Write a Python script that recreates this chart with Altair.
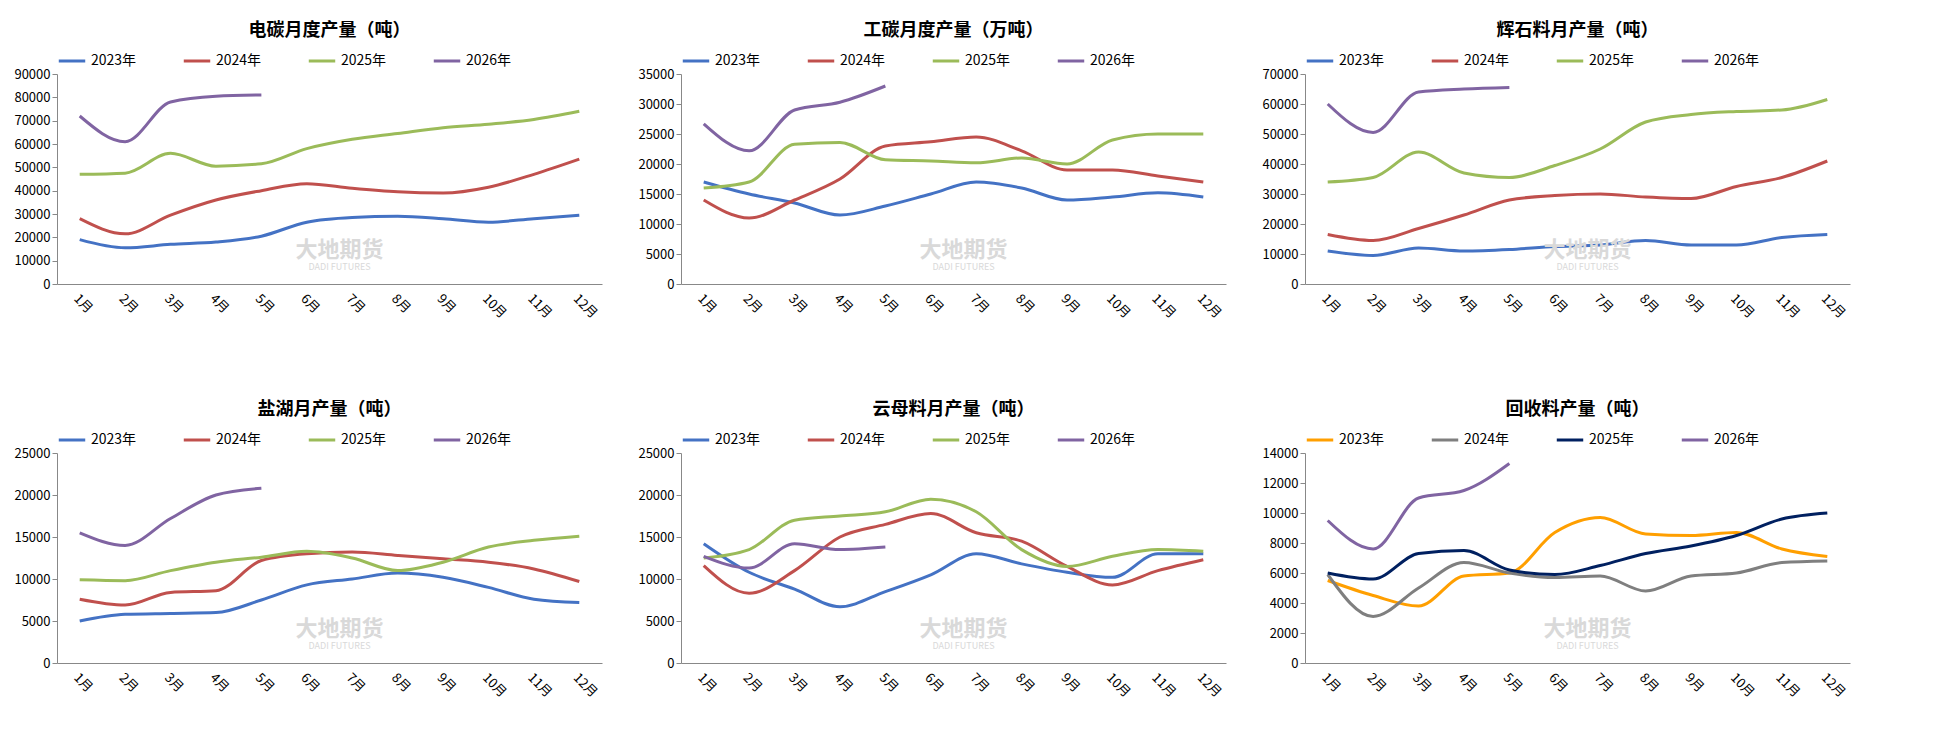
import altair as alt
import pandas as pd

months = [f"{i}月" for i in range(1, 13)]
years = ["2023年", "2024年", "2025年", "2026年"]
colors_main = ["#4472C4", "#C0504D", "#9BBB59", "#8064A2"]
colors_recy = ["#FF9F00", "#7F7F7F", "#002060", "#8064A2"]

dian = [
    [19000, 15500, 17000, 18000, 20500, 26500, 28500, 29000, 28000, 26500, 28000, 29500],
    [28000, 21500, 29500, 36000, 40000, 43000, 41000, 39500, 39000, 41500, 47000, 53500],
    [47000, 47500, 56000, 50500, 51500, 58000, 62000, 64500, 67000, 68500, 70500, 74000],
    [72000, 61000, 78000, 80500, 81000],
]
gong = [
    [17000, 15000, 13500, 11500, 13000, 15000, 17000, 16000, 14000, 14500, 15200, 14500],
    [14000, 11000, 14000, 17500, 23000, 23700, 24500, 22200, 19000, 19000, 18000, 17000],
    [16000, 17000, 23300, 23600, 20700, 20500, 20200, 21000, 20000, 24000, 25000, 25000],
    [26700, 22200, 29000, 30300, 33000],
]
huishi = [
    [11000, 9500, 12000, 11000, 11500, 12500, 13000, 14500, 13000, 13000, 15500, 16500],
    [16500, 14500, 18500, 23000, 28000, 29500, 30000, 29000, 28500, 32500, 35500, 41000],
    [34000, 35500, 44000, 37000, 35500, 39500, 45000, 54000, 56500, 57500, 58000, 61500],
    [60000, 50500, 64000, 65000, 65500],
]
yanhu = [
    [5000, 5800, 5900, 6000, 7500, 9300, 10000, 10700, 10200, 9000, 7600, 7200],
    [7600, 6900, 8400, 8600, 12200, 13000, 13200, 12800, 12400, 12000, 11200, 9700],
    [9900, 9800, 11000, 12000, 12600, 13300, 12500, 11000, 12000, 13800, 14600, 15100],
    [15500, 14000, 17200, 20000, 20800],
]
yunmu = [
    [14200, 10800, 8800, 6700, 8500, 10500, 13000, 11800, 10800, 10200, 13000, 13000],
    [11600, 8300, 11000, 15000, 16500, 17800, 15500, 14500, 11500, 9300, 11000, 12300],
    [12500, 13500, 17000, 17500, 18000, 19500, 18000, 13500, 11500, 12700, 13500, 13300],
    [12700, 11300, 14200, 13500, 13800],
]
huishou = [
    [5500, 4500, 3800, 5800, 6000, 8700, 9700, 8600, 8500, 8700, 7600, 7100],
    [5900, 3100, 5000, 6700, 6000, 5700, 5800, 4800, 5800, 6000, 6700, 6800],
    [6000, 5600, 7300, 7500, 6200, 5900, 6500, 7300, 7800, 8500, 9600, 10000],
    [9500, 7600, 11000, 11500, 13300],
]

W, H = 545, 210
FONT = "Noto Sans CJK SC"


def panel(title, series, ymax, step, colors):
    rows = []
    for yr, vals in zip(years, series):
        for m, v in zip(months, vals):
            rows.append({"month": m, "year": yr, "value": v})
    df = pd.DataFrame(rows)
    lines = alt.Chart(df).mark_line(interpolate="monotone", strokeWidth=3).encode(
        x=alt.X("month:N", sort=months, title=None,
                axis=alt.Axis(labelAngle=45, ticks=False, domainColor="#888",
                              labelFontSize=13, labelPadding=8)),
        y=alt.Y("value:Q", title=None, scale=alt.Scale(domain=[0, ymax]),
                axis=alt.Axis(grid=False, values=list(range(0, ymax + 1, step)),
                              format="d", domainColor="#888", tickColor="#888",
                              labelFontSize=13)),
        color=alt.Color("year:N", sort=years,
                        scale=alt.Scale(domain=years, range=colors),
                        legend=alt.Legend(title=None, orient="top", direction="horizontal",
                                          symbolType="stroke", symbolStrokeWidth=3,
                                          symbolSize=700, labelFontSize=14,
                                          columnPadding=40, offset=6)),
    )
    wm1 = alt.Chart(pd.DataFrame({"t": ["大地期货"]})).mark_text(
        fontSize=22, fontWeight="bold", color="#d9d9d9", font=FONT
    ).encode(x=alt.value(W / 2 + 10), y=alt.value(H * 0.84), text="t:N")
    wm2 = alt.Chart(pd.DataFrame({"t": ["DADI FUTURES"]})).mark_text(
        fontSize=9, color="#d9d9d9", font=FONT
    ).encode(x=alt.value(W / 2 + 10), y=alt.value(H * 0.84 + 17), text="t:N")
    return (lines + wm1 + wm2).properties(
        width=W, height=H,
        title=alt.TitleParams(title, fontSize=18, fontWeight="bold", font=FONT, offset=6),
    )


top = alt.hconcat(
    panel("电碳月度产量（吨）", dian, 90000, 10000, colors_main),
    panel("工碳月度产量（万吨）", gong, 35000, 5000, colors_main),
    panel("辉石料月产量（吨）", huishi, 70000, 10000, colors_main),
    spacing=35,
).resolve_scale(color="independent")
bottom = alt.hconcat(
    panel("盐湖月产量（吨）", yanhu, 25000, 5000, colors_main),
    panel("云母料月产量（吨）", yunmu, 25000, 5000, colors_main),
    panel("回收料产量（吨）", huishou, 14000, 2000, colors_recy),
    spacing=35,
).resolve_scale(color="independent")
chart = alt.vconcat(top, bottom, spacing=80).resolve_scale(
    color="independent"
).properties(padding={"top": 14, "left": 5, "right": 5, "bottom": 5}).configure(
    font=FONT
).configure_view(stroke=None)
chart.save("out.html", embed_options={"renderer": "svg", "actions": False})
